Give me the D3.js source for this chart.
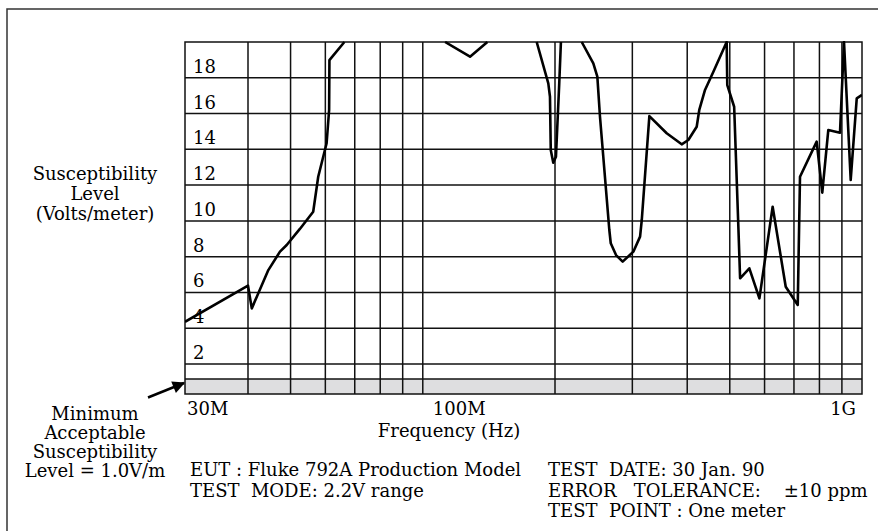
<!DOCTYPE html>
<html><head><meta charset="utf-8">
<script src="https://cdn.jsdelivr.net/npm/d3@7"></script>
<style>
body{margin:0;background:#fff}
text{font-family:"DejaVu Serif",serif;font-size:18px;fill:#000;white-space:pre}
</style>
</head><body>
<svg id="chart" width="878" height="531"></svg>
<script>
// ---- data (frequency in MHz, susceptibility level in V/m; null = off-scale gap) ----
const freqMHz = [30, 40.0, 40.8, 44.5, 47.3, 49.0, 52.5, 56.3, 57.8, 60.4, 61.2, 61.3, 66.3,
  90,
  112.4, 128.1, 140.3,
  160,
  181.7, 193.1, 194.8, 195.6, 198.2, 201.0, 201.8, 204.5, 206.3,
  218,
  230.1, 244.5, 249.7, 253.2, 265.9, 267.9, 275.4, 285.2, 301.6, 312.4, 315.2, 328.0,
  359.2, 388.6, 402.3, 420.4, 426.1, 439.1, 458.8, 491.9, 493.5, 511.6, 523.3, 527.8,
  554.0, 584.0, 626.0, 670.4, 714.0, 722.5, 788.5, 812.0, 838.0, 891.0, 910.0, 942.5,
  972.8, 1000];
const levelVm = [4.36, 6.38, 5.11, 7.25, 8.28, 8.65, 9.55, 10.51, 12.47, 14.34, 16.2, 18.99, 20,
  null,
  20, 19.18, 20,
  null,
  20, 17.69, 16.94, 13.96, 13.25, 13.59, 14.52, 17.69, 20,
  null,
  20, 18.81, 18.06, 15.82, 9.49, 8.75, 8.09, 7.72, 8.28, 9.12, 10.05, 15.86,
  14.90, 14.28, 14.52, 15.26, 16.20, 17.32, 18.34, 20, 17.59, 16.38, 9.49, 6.79,
  7.35, 5.67, 10.79, 6.32, 5.30, 12.47, 14.43, 11.58, 15.08, 14.93, 20, 12.29,
  16.85, 17.04];
const gridFreqMHz = [40, 50, 60, 70, 80, 90, 100, 200, 300, 400, 500, 600, 700, 800, 900];
const levelTicks = [2, 4, 6, 8, 10, 12, 14, 16, 18];
const freqLabelValues = [30, 100, 1000];
const freqLabels = ["30M", "100M", "1G"];
const minAcceptable = 1.0;
const yLabelLines = ["Susceptibility", "Level", "(Volts/meter)"];
const minLabelLines = ["Minimum", "Acceptable", "Susceptibility", "Level = 1.0V/m"];
const infoLeft = ["EUT : Fluke 792A Production Model", "TEST  MODE: 2.2V range"];
const infoRight = ["TEST  DATE: 30 Jan. 90", "ERROR   TOLERANCE:    \u00b110 ppm", "TEST  POINT : One meter"];

// ---- layout ----
const L = 185, R = 862, T = 42, B = 394;
const svg = d3.select("#chart");

const x = d3.scaleLog().domain([30, 40, 1000]).range([L, 248, R]);
const y = d3.scaleLinear().domain([0, minAcceptable, 2, 20]).range([B, 379, 364, T]);

// outer frame (top & left visible)
svg.append("path").attr("d", `M7,531V9H878`).attr("fill", "none")
  .attr("stroke", "#333").attr("stroke-width", 1.5);

// minimum acceptable band
svg.append("rect").attr("x", L).attr("y", y(minAcceptable))
  .attr("width", R - L).attr("height", y(0) - y(minAcceptable)).attr("fill", "#dedee0");

const g = svg.append("g");
// horizontal grid
g.selectAll("line.h").data(levelTicks.concat([minAcceptable])).join("line")
  .attr("x1", L).attr("x2", R).attr("y1", d => y(d)).attr("y2", d => y(d))
  .attr("stroke", "#111").attr("stroke-width", 1.5);
// vertical grid
g.selectAll("line.v").data(gridFreqMHz).join("line")
  .attr("x1", d => x(d)).attr("x2", d => x(d)).attr("y1", T).attr("y2", B)
  .attr("stroke", "#111").attr("stroke-width", 1.5);
// plot border
svg.append("rect").attr("x", L).attr("y", T).attr("width", R - L).attr("height", B - T)
  .attr("fill", "none").attr("stroke", "#111").attr("stroke-width", 1.5);

// level tick labels inside plot
svg.selectAll("text.yt").data(levelTicks).join("text")
  .attr("x", L + 8).attr("y", d => y(d) - 5).text(d => d);

// curve
svg.append("defs").append("clipPath").attr("id", "clip")
  .append("rect").attr("x", L).attr("y", T - 1).attr("width", R - L).attr("height", B - T + 1);
const pts = freqMHz.map((f, i) => ({f, v: levelVm[i]}));
const line = d3.line().defined(d => d.v != null).x(d => x(d.f)).y(d => y(d.v));
svg.append("path").attr("d", line(pts)).attr("fill", "none").attr("stroke", "#000")
  .attr("stroke-width", 2.6).attr("stroke-linejoin", "round").attr("clip-path", "url(#clip)");

// frequency labels
svg.selectAll("text.xt").data(freqLabelValues).join("text")
  .attr("x", (d, i) => i === 0 ? x(d) + 2 : i === 1 ? x(d) + 10 : x(d) - 6)
  .attr("y", 415)
  .attr("text-anchor", (d, i) => i === 2 ? "end" : "start")
  .text((d, i) => freqLabels[i]);
svg.append("text").attr("x", 449).attr("y", 437).attr("text-anchor", "middle").text("Frequency (Hz)");

// y axis title
svg.selectAll("text.yl").data(yLabelLines).join("text")
  .attr("x", 95).attr("y", (d, i) => 180 + i * 20).attr("text-anchor", "middle").text(d => d);

// minimum annotation
svg.selectAll("text.ml").data(minLabelLines).join("text")
  .attr("x", 95).attr("y", (d, i) => 420 + i * 19).attr("text-anchor", "middle").text(d => d);
svg.select("defs").append("marker").attr("id", "ah").attr("viewBox", "0 0 10 10")
  .attr("refX", 9).attr("refY", 5).attr("markerWidth", 5.5).attr("markerHeight", 5)
  .attr("orient", "auto").attr("markerUnits", "strokeWidth")
  .append("path").attr("d", "M0,0L10,5L0,10z").attr("fill", "#000");
svg.append("line").attr("x1", 148).attr("y1", 397.5).attr("x2", L - 1).attr("y2", y(minAcceptable) + 4)
  .attr("stroke", "#000").attr("stroke-width", 2.5).attr("marker-end", "url(#ah)");

// info text
svg.selectAll("text.il").data(infoLeft).join("text")
  .attr("x", 190).attr("y", (d, i) => 476 + i * 20.5).text(d => d);
svg.selectAll("text.ir").data(infoRight).join("text")
  .attr("x", 548).attr("y", (d, i) => 476 + i * 20.5).text(d => d);
</script>
</body></html>
